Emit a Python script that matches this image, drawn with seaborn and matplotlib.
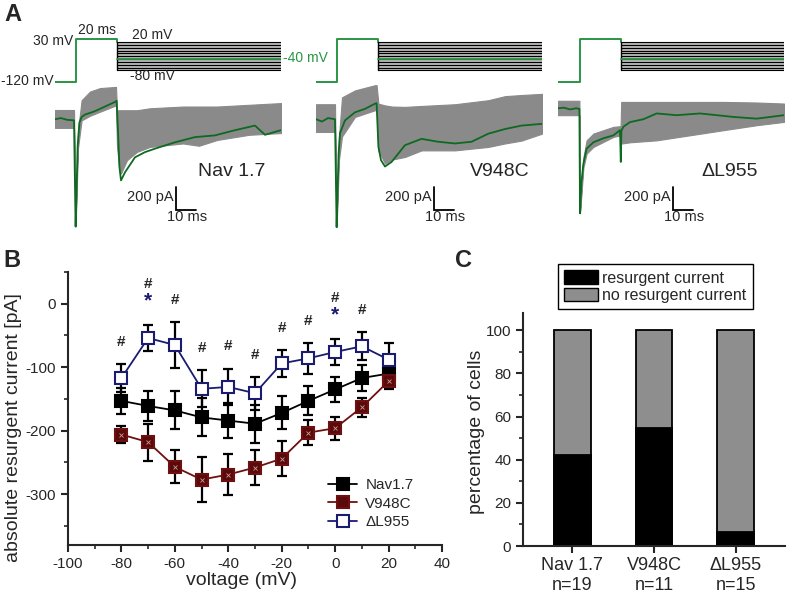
import numpy as np
import pandas as pd
import seaborn as sns
import matplotlib
matplotlib.use("Agg")
import matplotlib.pyplot as plt
from matplotlib.patches import Patch
from matplotlib.ticker import MultipleLocator

# ---------------- data ----------------
# panel A: voltage protocol (mV) and current traces (pA), time in ms
step_levels = [20, 10, 0, -10, -20, -30, -40, -50, -60, -70, -80]
hold_mv, pulse_mv, shown_mv = -120, 30, -40
pulse_on = [10.5, 10.5, 11.0]
pulse_off = [31.0, 31.0, 31.5]
sweep_end = 113
trace_names = ["Nav 1.7", "V948C", "\u0394L955"]

t1_g = [0, 3, 6, 9.5, 10.3, 10.8, 11.3, 12.2, 13.3, 15, 20, 25, 30, 30.8, 31.5, 32.2, 33,
        35, 40, 45, 50, 60, 70, 80, 90, 100, 105, 113]
i1_g = [0, 10, -5, -10, -930, -600, -240, -30, 20, 40, 70, 110, 150, 160, -100, -410, -530,
        -460, -330, -285, -255, -200, -155, -140, -95, -55, -135, -95]
t1_e = [0, 9.5, 10.3, 11.5, 13.3, 17.5, 22.5, 30.5, 31, 32, 33, 36, 41, 47.5, 64, 72, 81, 97, 113]
top1 = [80, 80, -900, -100, 165, 240, 270, 280, 78, 78, 78, 78, 78, 95, 110, 110, 110, 125, 140]
bot1 = [-75, -75, -930, -250, -10, 30, 65, 120, -240, -400, -470, -355, -283, -240, -210, -230,
        -180, -135, -120]

t2_g = [0, 3, 6, 9.5, 10.3, 10.8, 11.3, 12, 14.5, 19.5, 24.5, 29.5, 30.3, 31.2, 32.5, 34.5,
        37.8, 44.5, 52.8, 61, 69.5, 77.8, 86.2, 94.5, 102.8, 113]
i2_g = [0, -20, 10, 0, -935, -600, -300, -120, -10, 60, 90, 135, 140, -240, -355, -410,
        -370, -225, -170, -195, -210, -195, -125, -85, -55, -40]
t2_e = [0, 9.5, 10.3, 11.5, 13, 19.5, 29.5, 30.3, 31.2, 34.5, 38, 44.5, 52.8, 69.5, 86.2, 94.5,
        102.8, 113]
top2 = [130, 130, -900, -150, 190, 250, 295, 295, 135, 120, 110, 107, 115, 130, 165, 200, 210, 220]
bot2 = [-110, -110, -935, -350, -150, 20, 78, 78, -270, -385, -350, -327, -270, -270, -240, -210,
        -185, -125]

t3_g = [0, 3, 6, 9, 10.7, 11, 11.7, 12.7, 14.3, 17.7, 22.7, 27.7, 31, 31.4, 31.7, 32.7, 36,
        42.7, 49.3, 59.3, 71, 87.7, 99.3, 113]
i3_g = [95, 100, 85, 95, 90, -815, -550, -385, -255, -200, -165, -140, -95, -370, -100, -65, -25,
        0, 50, 35, 50, 20, 5, 35]
t3_e = [0, 10.7, 11, 12.7, 14.3, 17.7, 27.7, 31.3, 31.6, 36, 49.3, 66, 82.7, 99.3, 113]
top3 = [160, 160, -800, -330, -183, -124, -66, -60, 150, 150, 150, 150, 150, 145, 136]
bot3 = [35, 35, -815, -420, -298, -240, -153, -140, -211, -200, -183, -139, -95, -52, -23]

# panel B: resurgent current vs voltage
volt = [-80, -70, -60, -50, -40, -30, -20, -10, 0, 10, 20]
nav = [-153, -161, -168, -179, -184, -189, -172, -153, -135, -117, -110]
nav_err = [20, 23, 30, 30, 28, 30, 26, 23, 20, 20, 10]
v948c = [-206, -218, -257, -277, -269, -258, -244, -203, -196, -163, -122]
v948c_err = [13, 29, 26, 35, 33, 27, 28, 20, 18, 15, 12]
dl955 = [-117, -54, -65, -134, -131, -141, -94, -86, -76, -67, -88]
dl955_err = [22, 20, 36, 29, 29, 26, 21, 24, 20, 22, 26]
hash_at = [-80, -70, -60, -50, -40, -30, -20, -10, 0, 10]
star_at = [-70, 0]

# panel C: share of cells with resurgent current
groups = ["Nav 1.7\nn=19", "V948C\nn=11", "\u0394L955\nn=15"]
resurgent_pct = [42.1, 54.5, 6.7]
total_pct = [100, 100, 100]

# ---------------- style ----------------
sns.set_style("ticks")
plt.rcParams["font.family"] = ["Liberation Sans", "DejaVu Sans"]
plt.rcParams["axes.unicode_minus"] = False
plt.rcParams["axes.linewidth"] = 1.5

W, H = 787, 594
fig = plt.figure(figsize=(W / 100, H / 100), dpi=100)


def px_axes(l, t, r, b):
    return fig.add_axes([l / W, 1 - b / H, (r - l) / W, (b - t) / H])


green_p = "#2b9444"
green_t = "#0d6a20"
grey_t = "#8a8a8a"

# ---------------- panel A ----------------
lefts = [55, 316, 558]
traces = [(t1_g, i1_g, t1_e, top1, bot1), (t2_g, i2_g, t2_e, top2, bot2),
          (t3_g, i3_g, t3_e, top3, bot3)]
bar_t = [60.5, 59, 57.3]

for k in range(3):
    L = lefts[k]
    axp = px_axes(L, 30, L + 226, 90)
    axp.set_xlim(0, sweep_end)
    axp.set_ylim(-150, 63.5)
    axp.axis("off")
    axp.fill_between([pulse_off[k], sweep_end], min(step_levels), max(step_levels),
                     color="#b5b5b5", lw=0)
    for lv in step_levels:
        axp.plot([pulse_off[k], sweep_end], [lv, lv], color="black", lw=0.8)
    axp.plot([0, pulse_on[k], pulse_on[k], pulse_off[k], pulse_off[k]],
             [hold_mv, hold_mv, pulse_mv, pulse_mv, max(step_levels)], color=green_p, lw=1.4)
    axp.plot([pulse_off[k], pulse_off[k]], [max(step_levels), min(step_levels)], color="black", lw=1)
    axp.plot([pulse_off[k], sweep_end], [shown_mv, shown_mv], color=green_p, lw=1.3)
    if k == 0:
        axp.text(9, 24, "30 mV", ha="right", va="center", fontsize=10)
        axp.text(21, 63, "20 ms", ha="center", va="center", fontsize=10)
        axp.text(38.5, 46, "20 mV", ha="left", va="center", fontsize=10)
        axp.text(37.5, -100, "-80 mV", ha="left", va="center", fontsize=10)
        axp.text(-0.5, -118, "-120 mV", ha="right", va="center", fontsize=10)
        axp.text(114, -36, "-40 mV", ha="left", va="center", fontsize=10, color=green_p)

    tg, ig, te, tp, bt = traces[k]
    axt = px_axes(L, 80, L + 226, 230)
    axt.set_xlim(0, sweep_end)
    axt.set_ylim(-960, 340)
    axt.axis("off")
    axt.fill_between(te, bt, tp, color=grey_t, lw=0.8, edgecolor=grey_t)
    sns.lineplot(x=tg, y=ig, sort=False, color=green_t, lw=1.3, ax=axt)
    axt.text(71.5 if k != 1 else 77, -450, trace_names[k], fontsize=14, va="center", ha="left")
    b = bar_t[k]
    axt.plot([b, b, b + 10], [-590, -790, -790], color="black", lw=1.3, solid_joinstyle="miter")
    axt.text(b - 1, -675, "200 pA", ha="right", va="center", fontsize=10.5)
    axt.text(b + 5.5, -850, "10 ms", ha="center", va="center", fontsize=10.5)

# ---------------- panel B ----------------
axB = px_axes(68, 272, 442, 545)
series = [("Nav1.7", nav, nav_err, "black", "black"),
          ("V948C", v948c, v948c_err, "#6e1010", "#5a0a0a"),
          ("\u0394L955", dl955, dl955_err, "#1b1b72", "white")]
for name, vals, err, col, face in series:
    axB.errorbar(volt, vals, yerr=err, fmt="none", ecolor="black", elinewidth=1.6,
                 capsize=3.5, capthick=1.6, zorder=2)
for name, vals, err, col, face in series:
    sns.lineplot(x=volt, y=vals, color=col, lw=1.3, marker="s", markersize=8,
                 markerfacecolor=face, markeredgecolor=col, markeredgewidth=1.5,
                 label=name, ax=axB, zorder=3)
axB.plot(volt, v948c, ls="none", marker="x", markersize=3, mew=0.6, color="#d09a9a", zorder=4)

for v in hash_at:
    i = volt.index(v)
    y = dl955[i] + dl955_err[i] + 24
    if v in star_at:
        axB.text(v, y, "*", ha="center", va="bottom", fontsize=15, fontweight="bold", color="#1b1b72")
        y += 30
    axB.text(v, y, "#", ha="center", va="bottom", fontsize=11, fontweight="bold")

axB.set_xlim(-100, 40)
axB.set_ylim(-380, 50)
axB.xaxis.set_major_locator(MultipleLocator(20))
axB.xaxis.set_minor_locator(MultipleLocator(10))
axB.set_yticks([-300, -200, -100, 0])
axB.yaxis.set_minor_locator(MultipleLocator(50))
axB.tick_params(which="major", length=5, width=1.5, labelsize=11, direction="out")
axB.tick_params(which="minor", length=3, width=1.2, direction="out")
sns.despine(ax=axB)
axB.set_xlabel("voltage (mV)", fontsize=14)
axB.set_ylabel("absolute resurgent current [pA]", fontsize=14)
axB.xaxis.set_label_coords(0.463, -0.1)
axB.yaxis.set_label_coords(-0.122, 0.432)
axB.legend(loc="upper left", bbox_to_anchor=(328 / W, 1 - 478 / H),
           bbox_transform=fig.transFigure, frameon=False, fontsize=11, borderpad=0,
           borderaxespad=0, handlelength=1.9, handletextpad=0.55, labelspacing=0.3)

# ---------------- panel C ----------------
axC = px_axes(523, 313, 785, 546)
sns.barplot(x=groups, y=total_pct, color="#8e8e8e", edgecolor="black", linewidth=1.3,
            width=0.45, saturation=1, ax=axC)
sns.barplot(x=groups, y=resurgent_pct, color="black", edgecolor="black", linewidth=1.3,
            width=0.45, saturation=1, ax=axC)
axC.set_xlim(-0.6, 2.6)
axC.set_ylim(0, 108)
axC.set_yticks([0, 20, 40, 60, 80, 100])
axC.yaxis.set_minor_locator(MultipleLocator(10))
axC.tick_params(which="major", length=5, width=1.5, labelsize=11, direction="out")
axC.tick_params(axis="x", labelsize=13, pad=3)
axC.tick_params(which="minor", length=3, width=1.2, direction="out")
sns.despine(ax=axC)
axC.set_ylabel("percentage of cells", fontsize=14)
axC.yaxis.set_label_coords(-0.145, 0.49)
handles = [Patch(facecolor="black", edgecolor="black", label="resurgent current"),
           Patch(facecolor="#8e8e8e", edgecolor="black", label="no resurgent current")]
leg = axC.legend(handles=handles, loc="upper left", bbox_to_anchor=(558 / W, 1 - 264 / H),
                 bbox_transform=fig.transFigure, fontsize=11.5, fancybox=False,
                 edgecolor="black", framealpha=1, borderaxespad=0, borderpad=0.4,
                 handlelength=2.1, handleheight=0.9, handletextpad=0.25, labelspacing=0.15)
leg.get_frame().set_linewidth(1.0)

# panel letters
fig.text(4 / W, 1 - 3 / H, "A", fontsize=17, fontweight="bold", va="top")
fig.text(3 / W, 1 - 249 / H, "B", fontsize=17, fontweight="bold", va="top")
fig.text(455 / W, 1 - 249 / H, "C", fontsize=17, fontweight="bold", va="top")

fig.savefig("out.png", dpi=100)
